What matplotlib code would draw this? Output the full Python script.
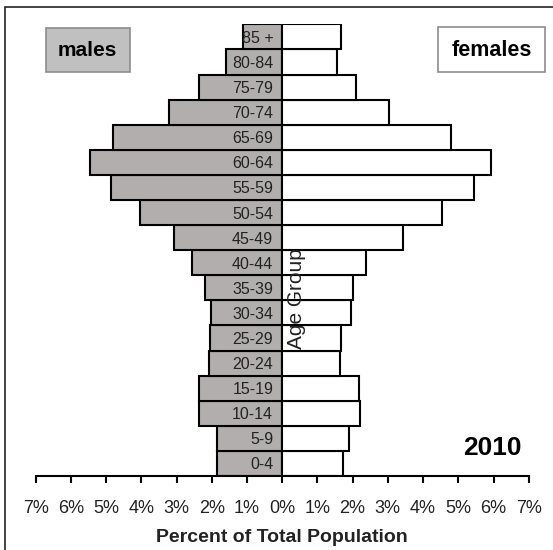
import matplotlib
matplotlib.use('Agg')
import numpy as np
from matplotlib import pyplot as plt
from matplotlib.patches import Rectangle

# age groups from bottom to top
ages = ['0-4', '5-9', '10-14', '15-19', '20-24', '25-29', '30-34', '35-39', '40-44',
        '45-49', '50-54', '55-59', '60-64', '65-69', '70-74', '75-79', '80-84', '85 +']
# percent of total population
males = [1.86, 1.86, 2.35, 2.36, 2.07, 2.06, 2.02, 2.19, 2.57,
         3.07, 4.03, 4.86, 5.46, 4.80, 3.22, 2.35, 1.59, 1.10]
females = [1.73, 1.90, 2.22, 2.17, 1.63, 1.68, 1.95, 2.01, 2.39,
           3.42, 4.53, 5.45, 5.93, 4.79, 3.04, 2.11, 1.56, 1.68]
xticks = list(range(-7, 8))
year = '2010'

plt.rcParams['font.family'] = ['Liberation Sans', 'DejaVu Sans']

fig = plt.figure(figsize=(5.53, 5.5), dpi=100)
ax = fig.add_axes([0.0644, 0.1345, 0.8917, 0.8213])
ax.set_axisbelow(False)

y = np.arange(len(ages))
ax.barh(y, [-m for m in males], height=1.0, color='#b2aeae', edgecolor='black', linewidth=1.5)
ax.barh(y, females, height=1.0, color='white', edgecolor='black', linewidth=1.5)

ax.set_xlim(-7, 7)
ax.set_ylim(-0.5, len(ages) - 0.5)

ax.spines['top'].set_visible(False)
ax.spines['right'].set_visible(False)
ax.spines['left'].set_position(('data', 0))
ax.spines['left'].set_visible(False)
ax.spines['bottom'].set_linewidth(1.5)

ax.set_yticks(y)
ax.set_yticklabels(ages, fontsize=11.5, color='#222222')
ax.tick_params(axis='y', length=0, pad=6.5)

ax.set_xticks(xticks)
ax.set_xticklabels(['%d%%' % abs(t) for t in xticks], fontsize=13, color='#222222')
ax.tick_params(axis='x', direction='out', length=5, width=1.5, pad=12.5)

fig.text(282 / 553, 1 - 537 / 550, 'Percent of Total Population', ha='center', va='center',
         fontsize=14, fontweight='bold', color='#222222')
fig.text(296 / 553, 1 - 299 / 550, 'Age Group', ha='center', va='center', rotation=90,
         fontsize=15, color='#222222')

# legend-like boxes
fig.patches.append(Rectangle((45.7 / 553, 1 - 72.3 / 550), 84.6 / 553, 44 / 550,
                             transform=fig.transFigure, facecolor='#c0c0c0', edgecolor='#8c8c8c',
                             linewidth=1.2, zorder=0))
fig.patches.append(Rectangle((438.3 / 553, 1 - 72.3 / 550), 106.7 / 553, 45.6 / 550,
                             transform=fig.transFigure, facecolor='white', edgecolor='#8c8c8c',
                             linewidth=1.2, zorder=0))
fig.text(87 / 553, 1 - 51 / 550, 'males', ha='center', va='center', fontsize=15, fontweight='bold')
fig.text(492 / 553, 1 - 51 / 550, 'females', ha='center', va='center', fontsize=15.5, fontweight='bold')

fig.text(492 / 553, 1 - 448 / 550, year, ha='center', va='center', fontsize=19, fontweight='bold')

# outer frame (only top and left visible in the crop)
fig.patches.append(Rectangle((5 / 553, -0.1), 1.2, 1 - 7 / 550 + 0.1, transform=fig.transFigure,
                             facecolor='none', edgecolor='#222222', linewidth=1.2))

plt.savefig('out.png', dpi=100)
